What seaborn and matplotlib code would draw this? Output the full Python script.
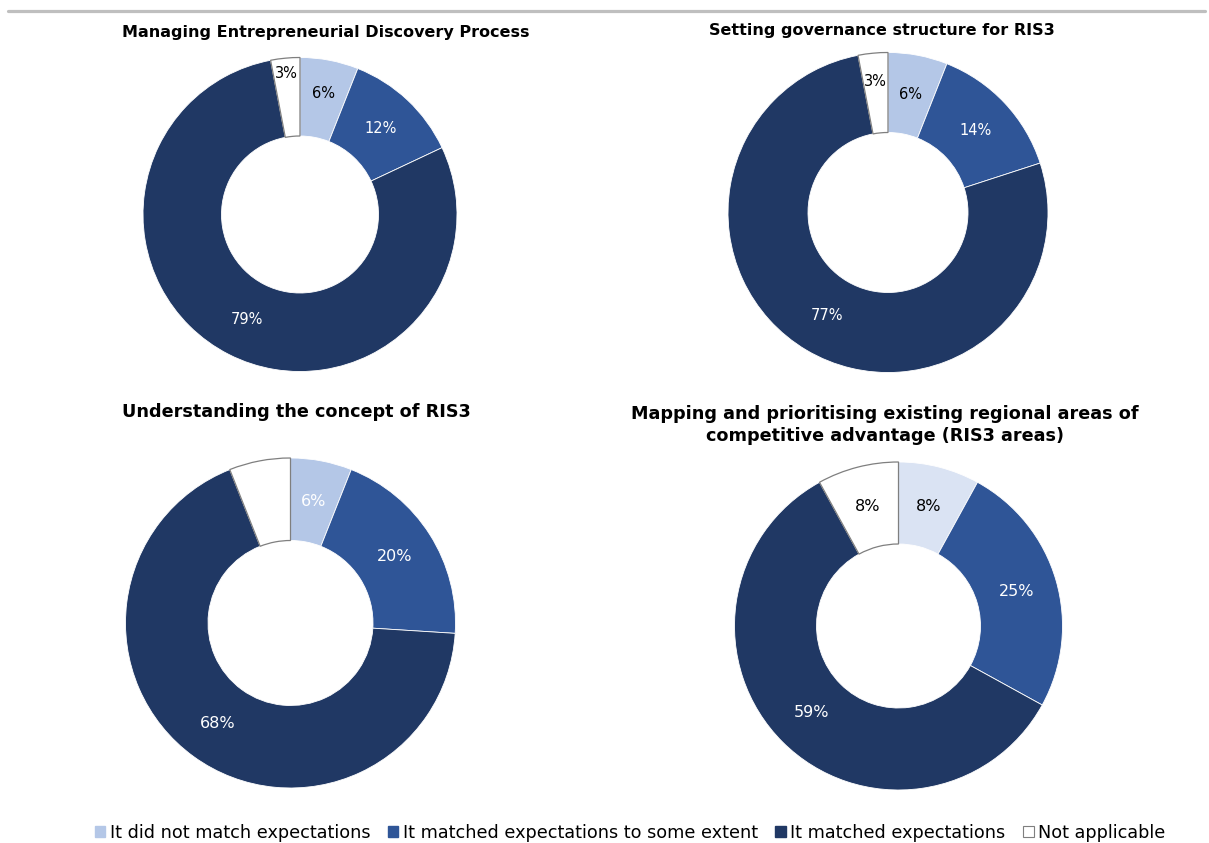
import matplotlib
matplotlib.use("Agg")
import matplotlib.pyplot as plt
from matplotlib.patches import Patch
from matplotlib.lines import Line2D
import seaborn as sns

sns.set_theme(style="white")
plt.rcParams["font.family"] = ["DejaVu Sans"]
plt.rcParams["text.color"] = "black"

# ---- data ------------------------------------------------------------
categories = [
    "It did not match expectations",
    "It matched expectations to some extent",
    "It matched expectations",
    "Not applicable",
]
titles = [
    "Managing Entrepreneurial Discovery Process",
    "Setting governance structure for RIS3",
    "Understanding the concept of RIS3",
    "Mapping and prioritising existing regional areas of\ncompetitive advantage (RIS3 areas)",
]
edp_shares = [6, 12, 79, 3]
governance_shares = [6, 14, 77, 3]
concept_shares = [6, 20, 68, 6]
mapping_shares = [8, 25, 59, 8]

# ---- styling ---------------------------------------------------------
LIGHT = "#B4C7E7"
LIGHTER = "#DAE3F3"
MID = "#2F5597"
DARK = "#203864"
NA_EDGE = "#7F7F7F"

W, H = 1209, 843
fig = plt.figure(figsize=(W / 100, H / 100), dpi=100)
fig.patch.set_facecolor("white")

# thin grey rule across the top
fig.add_artist(Line2D([8 / W, 1205 / W], [1 - 11 / H, 1 - 11 / H],
                      color="#BFBFBF", lw=2.3, transform=fig.transFigure))


def donut(values, title, cx, cy, R, colors, text_colors, fs, title_xy, title_fs):
    side = 2 * R * 1.25
    ax = fig.add_axes([(cx - side / 2) / W, 1 - (cy + side / 2) / H,
                       side / W, side / H])
    wedges, _, autotexts = ax.pie(
        values, colors=colors, startangle=90, counterclock=False,
        radius=1, autopct=lambda p: f"{p:.0f}%", pctdistance=0.75,
        wedgeprops=dict(width=0.5, edgecolor="white", linewidth=0.6),
        textprops=dict(fontsize=fs),
    )
    wedges[-1].set_edgecolor(NA_EDGE)
    wedges[-1].set_linewidth(0.9)
    for t, c in zip(autotexts, text_colors):
        t.set_color(c)
    ax.set_xlim(-1.25, 1.25)
    ax.set_ylim(-1.25, 1.25)
    ax.set_aspect("equal")
    ax.axis("off")
    tx, ty = title_xy
    fig.text(tx / W, 1 - ty / H, title, ha="center", va="center",
             fontsize=title_fs, fontweight="bold", color="black", linespacing=1.3)
    return autotexts


base_colors = [LIGHT, MID, DARK, "white"]

t1 = donut(edp_shares, titles[0], 300, 214.5, 157, base_colors,
           ["black", "white", "white", "black"], 10.5, (326, 33), 11.5)
t1[-1].set_position((t1[-1].get_position()[0] * 1.2, t1[-1].get_position()[1] * 1.2))
t1[0].set_position((t1[0].get_position()[0] * 1.05, t1[0].get_position()[1] * 1.05))

t2 = donut(governance_shares, titles[1], 888, 212.5, 160, base_colors,
           ["black", "white", "white", "black"], 10.5, (882, 30), 11.5)
t2[-1].set_position((t2[-1].get_position()[0] * 1.1, t2[-1].get_position()[1] * 1.1))

donut(concept_shares, titles[2], 290.5, 623, 165, base_colors,
      ["white", "white", "white", "white"], 11.5, (296, 412), 12.7)

donut(mapping_shares, titles[3], 898.5, 626, 164, [LIGHTER, MID, DARK, "white"],
      ["black", "white", "white", "black"], 11.5, (885, 425), 12.7)

handles = [
    Patch(facecolor=LIGHT, edgecolor=LIGHT),
    Patch(facecolor=MID, edgecolor=MID),
    Patch(facecolor=DARK, edgecolor=DARK),
    Patch(facecolor="white", edgecolor=NA_EDGE, linewidth=0.8),
]
leg = fig.legend(handles, categories, loc="center", bbox_to_anchor=(630 / W, 1 - 833 / H),
                 ncol=4, frameon=False, fontsize=12.7, handlelength=0.6, handleheight=0.6,
                 handletextpad=0.25, columnspacing=1.0, borderaxespad=0, borderpad=0)
for txt in leg.get_texts():
    txt.set_color("black")

fig.savefig("out.png", dpi=100, facecolor="white")
